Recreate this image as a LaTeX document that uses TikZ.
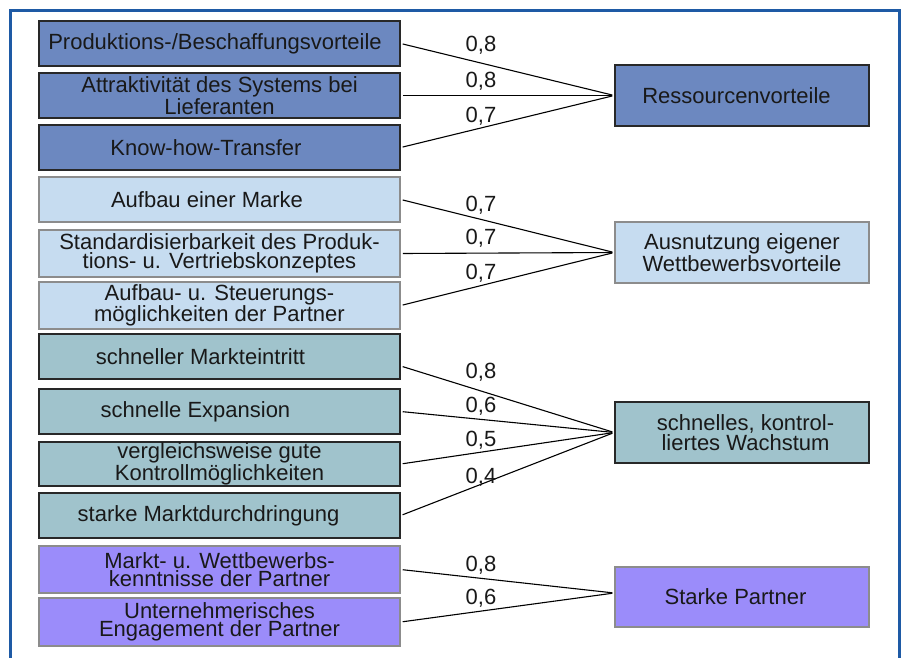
\documentclass[tikz,border=0pt]{standalone}
\usepackage{fontspec}
\setmainfont{Liberation Sans}
\definecolor{frameblue}{RGB}{30,90,165}
\definecolor{cA}{RGB}{108,136,192}
\definecolor{cB}{RGB}{198,220,240}
\definecolor{cC}{RGB}{160,195,204}
\definecolor{cD}{RGB}{155,140,250}
\definecolor{bdark}{RGB}{40,40,40}
\definecolor{bgrey}{RGB}{140,140,140}
\newcommand\shl[2]{#2\hspace*{#1pt}}
\begin{document}
\begin{tikzpicture}[x=1pt,y=-1pt,
  txt/.style={font=\fontsize{22}{18.5}\selectfont, text=black!90},
  box/.style={txt, draw, line width=1.5pt, inner sep=0pt, align=center},
  lbox/.style={box, minimum width=361pt},
  rbox/.style={box, minimum width=254pt, minimum height=61pt},
  gA/.style={fill=cA, draw=bdark},
  gB/.style={fill=cB, draw=bgrey},
  gC/.style={fill=cC, draw=bdark},
  gD/.style={fill=cD, draw=bgrey},
  conn/.style={draw=black, line width=1.1pt, shorten <=2pt, shorten >=2pt},
  wt/.style={txt, anchor=base, inner sep=0pt}]
\useasboundingbox (0,0) rectangle (903,657);
\fill[white] (0,0) rectangle (903,657);
\draw[frameblue, line width=3pt] (10,10) rectangle (899.5,700);

% left boxes
\node[lbox, gA, minimum height=45pt] (b1) at (219.5,43.5) {\shl{9}{Produktions-/Beschaffungsvorteile}};
\node[lbox, gA, minimum height=45pt] (b2) at (219.5,95.5) {Attraktivität des Systems bei\\Lieferanten};
\node[lbox, gA, minimum height=45pt] (b3) at (219.5,147.5) {\shl{27}{Know-how-Transfer}};
\node[lbox, gB, minimum height=45pt] (b4) at (219.5,199.5) {\shl{25}{Aufbau einer Marke}};
\node[lbox, gB, minimum height=47pt] (b5) at (219.5,253.5) {Standardisierbarkeit des Produk-\\tions- u. Vertriebskonzeptes};
\node[lbox, gB, minimum height=47pt] (b6) at (219.5,305.5) {Aufbau- u. Steuerungs-\\möglichkeiten der Partner};
\node[lbox, gC, minimum height=45pt] (b7) at (219.5,356.5) {\shl{38}{schneller Markteintritt}};
\node[lbox, gC, minimum height=45pt] (b8) at (219.5,411.5) {\shl{48}{schnelle Expansion}};
\node[lbox, gC, minimum height=44pt] (b9) at (219.5,464) {vergleichsweise gute\\Kontrollmöglichkeiten};
\node[lbox, gC, minimum height=45pt] (b10) at (219.5,515.5) {\shl{22}{starke Marktdurchdringung}};
\node[lbox, gD, minimum height=47pt] (b11) at (219.5,569.5) {Markt- u. Wettbewerbs-\\kenntnisse der Partner};
\node[lbox, gD, minimum height=48pt] (b12) at (219.5,622) {Unternehmerisches\\Engagement der Partner};

% right boxes
\node[rbox, gA] (r1) at (742,95.5) {\shl{11}{Ressourcenvorteile}};
\node[rbox, gB] (r2) at (742,252.5) {Ausnutzung eigener\\Wettbewerbsvorteile};
\node[rbox, gC] (r3) at (742,432.5) {\hspace*{7pt}schnelles, kontrol-\\\hspace*{7pt}liertes Wachstum};
\node[rbox, gD, minimum height=60pt] (r4) at (742,597) {\shl{13}{Starke Partner}};

% connectors
\draw[conn] (b1.east) -- (r1.west);
\draw[conn] (b2.east) -- (r1.west);
\draw[conn] (b3.east) -- (r1.west);
\draw[conn] (b4.east) -- (r2.west);
\draw[conn] (b5.east) -- (r2.west);
\draw[conn] (b6.east) -- (r2.west);
\draw[conn] ([yshift=-9.5pt]b7.east) -- (r3.west);
\draw[conn] (b8.east) -- (r3.west);
\draw[conn] (b9.east) -- (r3.west);
\draw[conn] (b10.east) -- (r3.west);
\draw[conn] (b11.east) -- ([yshift=4pt]r4.west);
\draw[conn] (b12.east) -- ([yshift=4pt]r4.west);

% weights
\node[wt] (w1) at (481,51) {0,8};
\node[wt] (w2) at (481,87.5) {0,8};
\node[wt] (w3) at (481,122) {0,7};
\node[wt] (w4) at (481,211) {0,7};
\node[wt] (w5) at (481,244.5) {0,7};
\node[wt] (w6) at (481,279.5) {0,7};
\node[wt] (w7) at (481,378) {0,8};
\node[wt] (w8) at (481,412.5) {0,6};
\node[wt] (w9) at (481,446.5) {0,5};
\node[wt] (w10) at (481,483) {0,4};
\node[wt] (w11) at (481,571.5) {0,8};
\node[wt] (w12) at (481,604.5) {0,6};
\end{tikzpicture}
\end{document}
